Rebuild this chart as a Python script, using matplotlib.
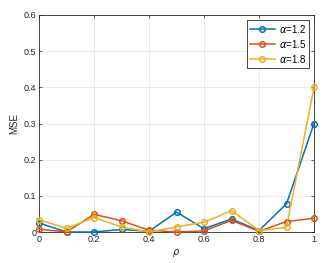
import numpy as np
import matplotlib
matplotlib.use('Agg')
import matplotlib.pyplot as plt

plt.rcParams['font.family'] = ['Liberation Sans', 'DejaVu Sans']

rho = [0, 0.1, 0.2, 0.3, 0.4, 0.5, 0.6, 0.7, 0.8, 0.9, 1.0]
mse_12 = [0.025, 0.0, 0.0, 0.007, 0.002, 0.055, 0.009, 0.036, 0.004, 0.078, 0.30]
mse_15 = [0.008, 0.0, 0.049, 0.031, 0.005, 0.0, 0.003, 0.032, 0.002, 0.029, 0.038]
mse_18 = [0.034, 0.010, 0.040, 0.014, 0.0, 0.014, 0.027, 0.059, 0.004, 0.013, 0.40]
labels = [r'$\alpha$=1.2', r'$\alpha$=1.5', r'$\alpha$=1.8']
colors = ['#0072BD', '#D95319', '#EDB120']

fig = plt.figure(figsize=(3.32, 2.63), dpi=100)
ax = fig.add_axes([39 / 332, 1 - 232 / 263, 275 / 332, 217 / 263])

for ys, lab, c in zip([mse_12, mse_15, mse_18], labels, colors):
    ax.plot(rho, ys, '-o', color=c, label=lab, lw=1.1, ms=4,
            mfc='none', mew=1.1, clip_on=False, zorder=3)

ax.set_xlim(0, 1)
ax.set_ylim(0, 0.6)
ax.set_xticks([0, 0.2, 0.4, 0.6, 0.8, 1])
ax.set_xticklabels(['0', '0.2', '0.4', '0.6', '0.8', '1'])
ax.set_yticks([0, 0.1, 0.2, 0.3, 0.4, 0.5, 0.6])
ax.set_yticklabels(['0', '0.1', '0.2', '0.3', '0.4', '0.5', '0.6'])
ax.grid(True, color='#e6e6e6', lw=0.6)
ax.set_axisbelow(True)
ax.tick_params(direction='in', length=2.5, width=0.5, labelsize=6.5,
               top=True, right=True, colors='#262626', pad=2)
for s in ax.spines.values():
    s.set_color('#262626')
    s.set_linewidth(0.6)
ax.set_xlabel(r'$\rho$', fontsize=7, color='#262626', labelpad=2)
ax.set_ylabel('MSE', fontsize=7, color='#262626', labelpad=3)

leg = ax.legend(loc='upper right', fontsize=7, fancybox=False, framealpha=1,
                edgecolor='#262626', handlelength=2.6, borderpad=0.3,
                labelspacing=0.3, handletextpad=0.4, borderaxespad=0.5)
leg.get_frame().set_linewidth(0.6)

fig.savefig('out.png', dpi=100)
